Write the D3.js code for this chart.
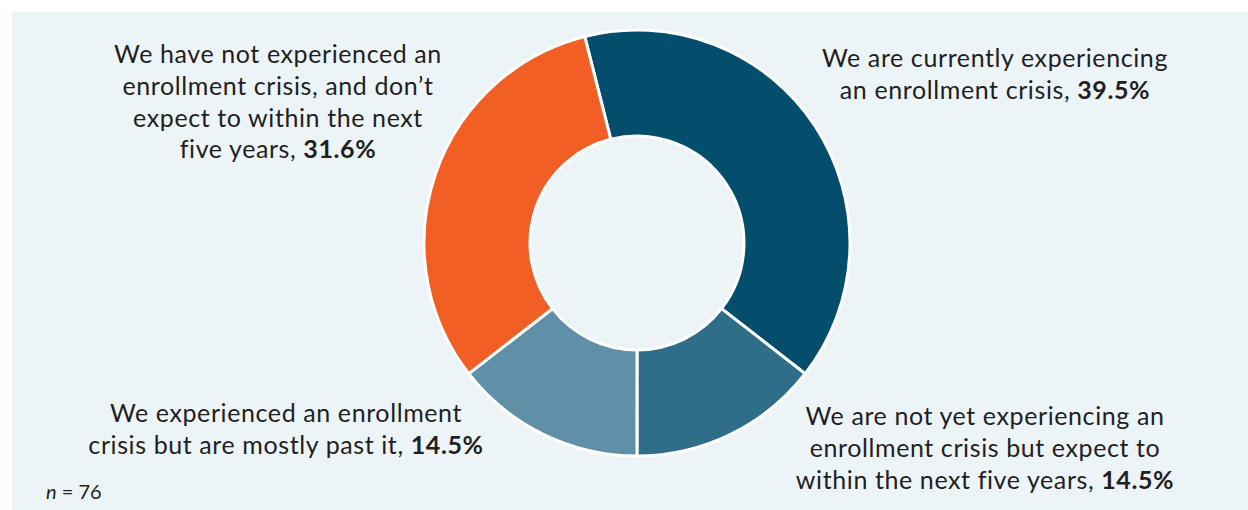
<!DOCTYPE html>
<html>
<head>
	<meta charset="UTF-8" />
	<title>enrollment crisis donut</title>
	<script src="https://d3js.org/d3.v7.min.js"></script>
	<style>
		body { margin: 0; background: #ffffff; }
		svg { display: block; font-family: Lato, "Open Sans", sans-serif; }
	</style>
</head>
<body>
	<svg id="chart" width="1248" height="510"></svg>

	<script type="text/javascript">
	// data
	var categories = ["current", "notYet", "past", "never"]
	var shares = [39.5, 14.5, 14.5, 31.6]
	var labelLines = [
		["We are currently experiencing", "an enrollment crisis, "],
		["We are not yet experiencing an", "enrollment crisis but expect to", "within the next five years, "],
		["We experienced an enrollment", "crisis but are mostly past it, "],
		["We have not experienced an", "enrollment crisis, and don\u2019t", "expect to within the next", "five years, "]
	]
	var sampleSize = 76

	// colours
	var colors = ["#044e6d", "#2e6e88", "#5f90a7", "#f15f24"]
	var panel = "#edf4f8"
	var ink = "#231f20"

	var svg = d3.select("#chart")
	svg.append("rect").attr("x", 12).attr("y", 12).attr("width", 1236).attr("height", 498).style("fill", panel)

	var cx = 637, cy = 243
	var color = d3.scaleOrdinal().domain(categories).range(colors)

	var pie = d3.pie().sort(null).value(d => d.v)
		.startAngle(-14.2 * Math.PI / 180)
		.endAngle(2 * Math.PI - 14.2 * Math.PI / 180)
	var arc = d3.arc().innerRadius(107).outerRadius(213)

	var rows = categories.map((c, i) => ({ key: c, v: shares[i] }))

	var g = svg.append("g").attr("transform", `translate(${cx},${cy})`)
	g.selectAll("path").data(pie(rows)).join("path")
		.attr("d", arc)
		.style("fill", d => color(d.data.key))
		.style("stroke", "#ffffff")
		.style("stroke-width", "3px")

	// label anchor spots (centre x, first baseline)
	var spots = [[995, 67], [985, 425], [286, 422], [278, 63]]
	var lineGap = 31.8

	labelLines.forEach((lines, i) => {
		var t = svg.append("text")
			.attr("text-anchor", "middle")
			.style("font-size", "25px")
			.style("letter-spacing", "0.6px")
			.style("fill", ink)
		lines.forEach((ln, j) => {
			var ts = t.append("tspan").attr("x", spots[i][0]).attr("y", spots[i][1] + j * lineGap).text(ln)
			if (j == lines.length - 1) {
				ts.append("tspan").style("font-weight", "bold").text(d3.format(".1f")(shares[i]) + "%")
			}
		})
	})

	var n = svg.append("text").attr("x", 46).attr("y", 499).style("font-size", "20px").style("fill", ink)
	n.append("tspan").style("font-style", "italic").text("n")
	n.append("tspan").text(" = " + sampleSize)
	</script>
</body>
</html>
